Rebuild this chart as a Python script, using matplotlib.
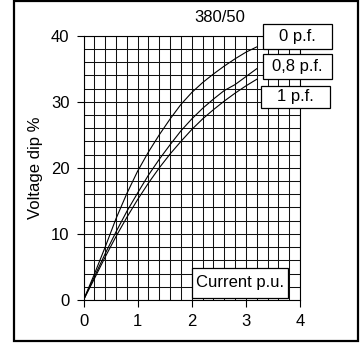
import matplotlib
matplotlib.use("Agg")
import matplotlib.pyplot as plt
from matplotlib.patches import Rectangle
import numpy as np

plt.rcParams.update({
    "font.family": ["Liberation Sans", "DejaVu Sans"],
    "font.size": 12,
})

# ---- data ---------------------------------------------------------------
current = [0, 0.2, 0.4, 0.6, 0.8, 1.0, 1.2, 1.4, 1.6, 1.8, 2.0, 2.2, 2.4, 2.6, 2.8, 3.0, 3.2]
dip_pf0 = [0, 3.9, 8.0, 12.3, 16.1, 19.5, 22.4, 25.0, 27.4, 29.6, 31.4, 32.9, 34.2, 35.4, 36.5, 37.5, 38.3]
dip_pf08 = [0, 3.5, 7.0, 10.3, 13.4, 16.2, 18.9, 21.3, 23.5, 25.6, 27.4, 29.0, 30.4, 31.7, 32.6, 33.8, 35.0]
dip_pf1 = [0, 3.2, 6.5, 9.6, 12.5, 15.2, 17.7, 20.0, 22.1, 24.0, 25.8, 27.4, 28.8, 30.1, 31.3, 32.4, 33.4]
labels = ["0 p.f.", "0,8 p.f.", "1 p.f."]

W, H = 361, 351
fig = plt.figure(figsize=(W / 100, H / 100), dpi=100)

def fx(px):
    return px / W

def fy(py):
    return 1 - py / H

ax = fig.add_axes([fx(83.5), fy(300), fx(300) - fx(83.5), fy(35.7) - fy(300)])

for ys in (dip_pf0, dip_pf08, dip_pf1):
    ax.plot(current, ys, color="black", lw=0.8, zorder=3)

ax.set_xlim(0, 4)
ax.set_ylim(0, 40)
ax.set_xticks([0, 1, 2, 3, 4])
ax.set_yticks([0, 10, 20, 30, 40])
ax.set_xticks(np.arange(0, 4.01, 0.2), minor=True)
ax.set_yticks(np.arange(0, 40.1, 2), minor=True)
ax.grid(which="both", color="#111111", lw=0.75)
ax.tick_params(which="minor", length=0)
ax.tick_params(which="major", length=5, width=0.8, color="black", labelsize=12, pad=5)
for s in ax.spines.values():
    s.set_linewidth(0.8)
ax.set_ylabel("Voltage dip %", fontsize=12, labelpad=6)

fig.text(fx(220), fy(18), "380/50", ha="center", va="center", fontsize=12)

# label boxes (figure pixel coords: x0, y0 top, x1, y1 bottom)
def box(x0, y0, x1, y1, text):
    r = Rectangle((fx(x0), fy(y1)), fx(x1) - fx(x0), fy(y0) - fy(y1),
                  transform=fig.transFigure, fc="white", ec="black", lw=0.9, zorder=10)
    fig.add_artist(r)
    fig.text(fx((x0 + x1) / 2), fy((y0 + y1) / 2), text, ha="center", va="center",
             fontsize=12, zorder=11)

box(263, 24, 332, 49, labels[0])
box(263, 54, 332, 79, labels[1])
box(261, 86, 330, 108, labels[2])
box(192, 268, 288, 298, "Current p.u.")

# outer frame
fig.add_artist(Rectangle((fx(14), fy(341)), fx(358) - fx(14), fy(1) - fy(341),
                         transform=fig.transFigure, fill=False, ec="black", lw=1.6))

fig.savefig("out.png", dpi=100)
